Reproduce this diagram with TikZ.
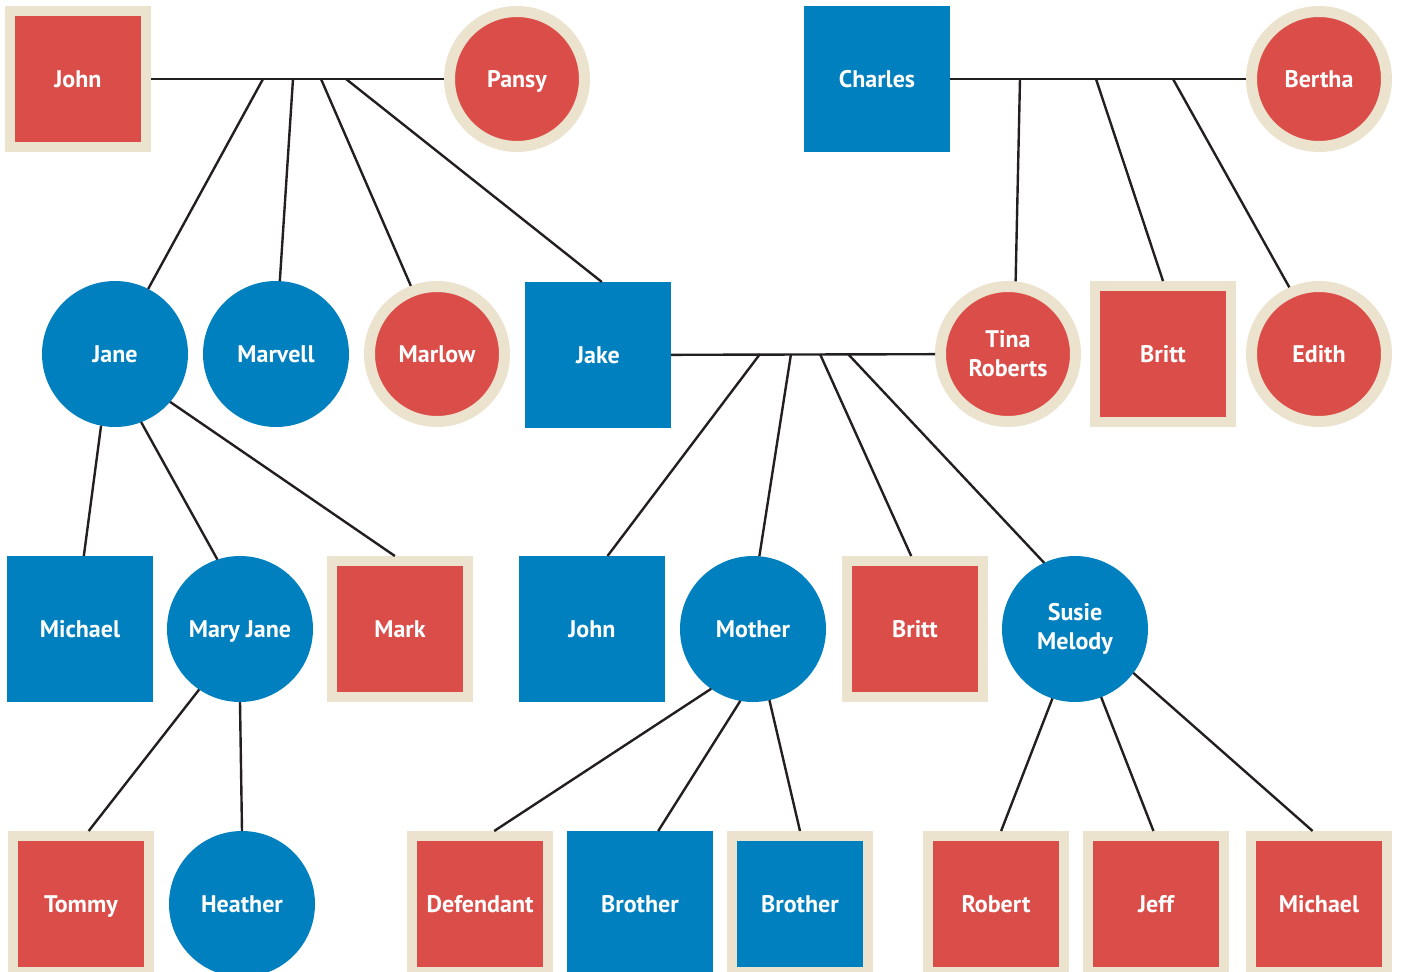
\documentclass[tikz,border=0pt]{standalone}
\usepackage{fontspec}
\setmainfont{PT Sans}
\usepackage{tikz}
\usetikzlibrary{calc}

\definecolor{famred}{RGB}{219,77,72}
\definecolor{famblue}{RGB}{0,128,190}
\definecolor{famcream}{RGB}{235,227,206}
\definecolor{tiecol}{RGB}{35,31,32}

\tikzset{
  person/.style={text=white, font=\bfseries\fontsize{24}{29}\selectfont,
    align=center, inner sep=0pt, text height=17pt, text depth=0pt},
  twoline/.style={text height=, text depth=},
  bluesq/.style={person, rectangle, fill=famblue, minimum size=146pt, outer sep=0pt},
  bluecirc/.style={person, circle, fill=famblue, minimum size=146pt, outer sep=0pt},
  redsq/.style={person, rectangle, fill=famred, draw=famcream, line width=10pt,
    minimum size=136pt, outer sep=5pt},
  redcirc/.style={person, circle, fill=famred, draw=famcream, line width=11pt,
    minimum size=135pt, outer sep=5.5pt},
  creamblue/.style={redsq, fill=famblue},
  tie/.style={draw=tiecol, line width=2.4pt}
}

\begin{document}
\begin{tikzpicture}[x=1pt,y=-1pt]
      \useasboundingbox (0,0) rectangle (1401,972);

      % grandparents
      \node[redsq] (john1) at (78,79) {John};
      \node[redcirc] (pansy) at (517,79) {Pansy};
      \node[bluesq] (charles) at (877,79) {Charles};
      \node[redcirc] (bertha) at (1319,79) {Bertha};

      % second row
      \node[bluecirc] (jane) at (115,354) {Jane};
      \node[bluecirc] (marvell) at (276,354) {Marvell};
      \node[redcirc] (marlow) at (437,354) {Marlow};
      \node[bluesq] (jake) at (598,355) {Jake};
      \node[redcirc, twoline] (tina) at (1008,354) {Tina\\Roberts};
      \node[redsq] (britt1) at (1163,354) {Britt};
      \node[redcirc] (edith) at (1319,354) {Edith};

      % third row
      \node[bluesq] (michael1) at (80,629) {Michael};
      \node[bluecirc] (maryjane) at (240,629) {Mary Jane};
      \node[redsq] (mark) at (400,629) {Mark};
      \node[bluesq] (john2) at (592,629) {John};
      \node[bluecirc] (mother) at (753,629) {Mother};
      \node[redsq] (britt2) at (915,629) {Britt};
      \node[bluecirc, twoline] (susie) at (1075,629) {Susie\\Melody};

      % fourth row
      \node[redsq] (tommy) at (81,904) {Tommy};
      \node[bluecirc] (heather) at (242,904) {Heather};
      \node[redsq] (defendant) at (480,904) {Defendant};
      \node[bluesq] (brother1) at (640,904) {Brother};
      \node[creamblue] (brother2) at (800,904) {Brother};
      \node[redsq] (robert) at (996,904) {Robert};
      \node[redsq] (jeff) at (1156,904) {Jeff};
      \node[redsq] (michael2) at (1319,904) {Michael};

      % couples
      \draw[tie] (john1) -- (pansy);
      \draw[tie] (charles) -- (bertha);
      \draw[tie] (jake) -- (tina);

      % points on the couple lines
      \coordinate (a1) at (263,79);
      \coordinate (a2) at (293,79);
      \coordinate (a3) at (321,79);
      \coordinate (a4) at (346,79);
      \coordinate (b1) at (1020,79);
      \coordinate (b2) at (1096,79);
      \coordinate (b3) at (1173,79);
      \coordinate (c1) at (760,354);
      \coordinate (c2) at (791,354);
      \coordinate (c3) at (820,354);
      \coordinate (c4) at (848,354);

      % children
      \draw[tie] (a1) -- (jane.63);
      \draw[tie] (a2) -- (marvell.87);
      \draw[tie] (a3) -- (marlow.111);
      \draw[tie] (a4) -- (jake.87);
      \draw[tie] (b1) -- (tina.84);
      \draw[tie] (b2) -- (britt1.north);
      \draw[tie] (b3) -- (edith.114);
      \draw[tie] (c1) -- (john2.78);
      \draw[tie] (c2) -- (mother.85);
      \draw[tie] (c3) -- (britt2.93);
      \draw[tie] (c4) -- (susie.115);

      \draw[tie] (jane.259) -- (michael1.87);
      \draw[tie] (jane.291) -- (maryjane.108);
      \draw[tie] (jane.319) -- (mark.94);
      \draw[tie] (maryjane.236) -- (tommy.84);
      \draw[tie] (maryjane.south) -- (heather.north);
      \draw[tie] (mother.235) -- (defendant.79);
      \draw[tie] (mother.260) -- (brother1.76);
      \draw[tie] (mother.283) -- (brother2.north);
      \draw[tie] (susie.252) -- (robert.86);
      \draw[tie] (susie.291) -- (jeff.92);
      \draw[tie] (susie.323) -- (michael2.95);

\end{tikzpicture}
\end{document}
